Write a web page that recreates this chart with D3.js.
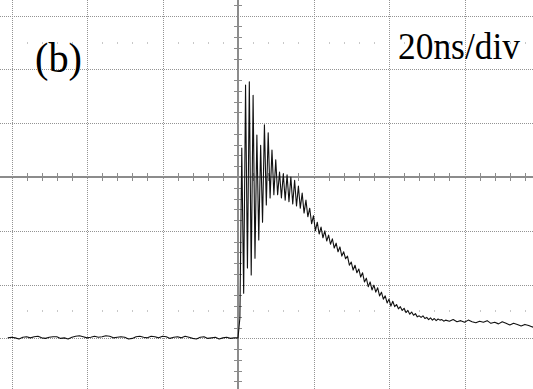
<!DOCTYPE html>
<html>
<head>
<meta charset="utf-8">
<script src="https://cdn.jsdelivr.net/npm/d3@7"></script>
<style>
  html, body { margin: 0; padding: 0; background: #fff; }
  svg { display: block; }
</style>
</head>
<body>
<div id="chart"></div>
<script>
// scope capture: time in ns (20 ns/div), signal in screen divisions
const preTriggerStart = -61;   // ns, 1 ns per sample
const preTrigger = [
  -2.99, -2.98, -2.99, -3.01, -2.98, -2.97, -2.99, -2.97, -2.96, -2.99,
  -3.00, -2.98, -2.97, -2.97, -3.00, -2.99, -3.01, -2.98, -2.96, -2.95,
  -2.97, -2.99, -2.98, -2.96, -2.98, -2.97, -2.95, -2.96, -2.99, -2.98,
  -2.97, -2.98, -3.01, -3.00, -2.97, -2.96, -2.98, -2.99, -2.96, -2.97,
  -2.99, -2.96, -2.97, -3.00, -2.98, -2.97, -2.99, -2.96, -2.98, -3.00,
  -3.01, -2.98, -2.97, -3.00, -2.99, -2.98, -3.01, -2.99, -2.98, -3.00,
  -2.99
];

const ringStart = 0;           // ns, 0.5 ns per sample
const ring = [
  -2.99, -2.62, 0.54, -2.16, 1.71, -1.69, 1.77, -1.82, 1.52, -1.51,
  0.78, -1.17, 0.59, -0.84, 0.97, -0.52, 0.82, -0.39, 0.50, -0.33,
  0.32, -0.33, 0.09, -0.39, 0.06, -0.43, 0.04, -0.46, 0.00, -0.50,
  -0.06, -0.54, -0.17, -0.58, -0.30, -0.67, -0.43, -0.74, -0.58, -0.87,
  -0.72, -1.00, -0.84, -1.06, -0.93, -1.13, -1.00, -1.19, -1.08, -1.25,
  -1.15, -1.32, -1.23, -1.39, -1.30, -1.47, -1.39, -1.52, -1.47, -1.64,
  -1.58, -1.73, -1.64, -1.78, -1.71, -1.86, -1.78, -1.95, -1.88, -2.04,
  -1.95, -2.10, -2.01, -2.14, -2.06, -2.21, -2.14, -2.27, -2.21, -2.34,
  -2.27, -2.40, -2.31, -2.41, -2.37, -2.45, -2.41, -2.48, -2.44, -2.52,
  -2.48, -2.55, -2.51, -2.57, -2.54, -2.60, -2.58, -2.61, -2.58, -2.63,
  -2.61, -2.65, -2.62, -2.66, -2.63, -2.67, -2.64, -2.66, -2.65, -2.68,
  -2.66
];

const tailStart = 56;          // ns, 1 ns per sample
const tail = [
  -2.68, -2.65, -2.69, -2.67, -2.70, -2.66, -2.69, -2.71, -2.68, -2.70,
  -2.67, -2.72, -2.70, -2.73, -2.69, -2.72, -2.75, -2.72, -2.74, -2.77,
  -2.74, -2.76, -2.79, -2.77
];

const panelLabel = "(b)";
const timebaseLabel = "20ns/div";

const width = 533, height = 389;
const cx = 238, cy = 177, divX = 75.5, divY = 53.8;

const x = d3.scaleLinear().domain([-100, 100]).range([cx - 5 * divX, cx + 5 * divX]);
const y = d3.scaleLinear().domain([-4, 4]).range([cy + 4 * divY, cy - 4 * divY]);

const trace = []
  .concat(preTrigger.map((v, i) => ({ t: preTriggerStart + i, v })))
  .concat(ring.map((v, i) => ({ t: ringStart + i * 0.5, v })))
  .concat(tail.map((v, i) => ({ t: tailStart + i, v })));

const svg = d3.select("#chart").append("svg")
  .attr("width", width)
  .attr("height", height);

svg.append("rect").attr("width", width).attr("height", height).attr("fill", "#fff");

const majorX = d3.range(-100, 101, 20);
const majorY = d3.range(-4, 5, 1);
const minorX = d3.range(-100, 101, 4).filter(t => t % 20 !== 0);
const minorY = d3.range(-20, 21, 1).map(d => d / 5).filter(d => d % 1 !== 0);

// dotted graticule
const grid = svg.append("g").attr("stroke", "#939393").attr("stroke-width", 1)
  .attr("stroke-dasharray", "1,1").attr("shape-rendering", "crispEdges");
grid.selectAll(".gx").data(majorX.filter(t => t !== 0)).join("line")
  .attr("x1", d => Math.round(x(d)) + 0.5).attr("x2", d => Math.round(x(d)) + 0.5)
  .attr("y1", 0).attr("y2", height);
grid.selectAll(".gy").data(majorY.filter(v => v !== 0)).join("line")
  .attr("y1", d => Math.round(y(d)) + 0.5).attr("y2", d => Math.round(y(d)) + 0.5)
  .attr("x1", 0).attr("x2", width);

// faint marks at +/-2.5 div
const marks = svg.append("g").attr("fill", "#c8c8c8");
[2.5, -2.5].forEach(level => {
  marks.selectAll(null).data(minorX).join("rect")
    .attr("x", d => Math.round(x(d)))
    .attr("y", Math.round(y(level)) - 1)
    .attr("width", 1).attr("height", 2);
});

// center axes with minor ticks
const axes = svg.append("g").attr("stroke", "#8c8c8c").attr("shape-rendering", "crispEdges");
axes.append("line").attr("x1", 0).attr("x2", width)
  .attr("y1", y(0)).attr("y2", y(0)).attr("stroke-width", 2);
axes.append("line").attr("y1", 0).attr("y2", height)
  .attr("x1", x(0)).attr("x2", x(0)).attr("stroke-width", 2);
axes.selectAll(".tx").data(minorX).join("line")
  .attr("x1", d => Math.round(x(d)) + 0.5).attr("x2", d => Math.round(x(d)) + 0.5)
  .attr("y1", y(0) - 4).attr("y2", y(0) + 4).attr("stroke-width", 1);
axes.selectAll(".ty").data(minorY).join("line")
  .attr("y1", d => Math.round(y(d)) + 0.5).attr("y2", d => Math.round(y(d)) + 0.5)
  .attr("x1", x(0) - 4).attr("x2", x(0) + 4).attr("stroke-width", 1);

// waveform
const line = d3.line().x(d => x(d.t)).y(d => y(d.v));
svg.append("path")
  .datum(trace)
  .attr("d", line)
  .attr("fill", "none")
  .attr("stroke", "#111")
  .attr("stroke-width", 1.1)
  .attr("stroke-linejoin", "round");

// labels
svg.append("text")
  .attr("x", 35).attr("y", 72)
  .attr("font-family", "'Liberation Serif', 'Times New Roman', serif")
  .attr("font-size", 42)
  .attr("textLength", 47).attr("lengthAdjust", "spacingAndGlyphs")
  .attr("fill", "#000")
  .text(panelLabel);

svg.append("text")
  .attr("x", 398).attr("y", 59)
  .attr("font-family", "'Liberation Serif', 'Times New Roman', serif")
  .attr("font-size", 38)
  .attr("textLength", 122).attr("lengthAdjust", "spacingAndGlyphs")
  .attr("fill", "#000")
  .text(timebaseLabel);
</script>
</body>
</html>
